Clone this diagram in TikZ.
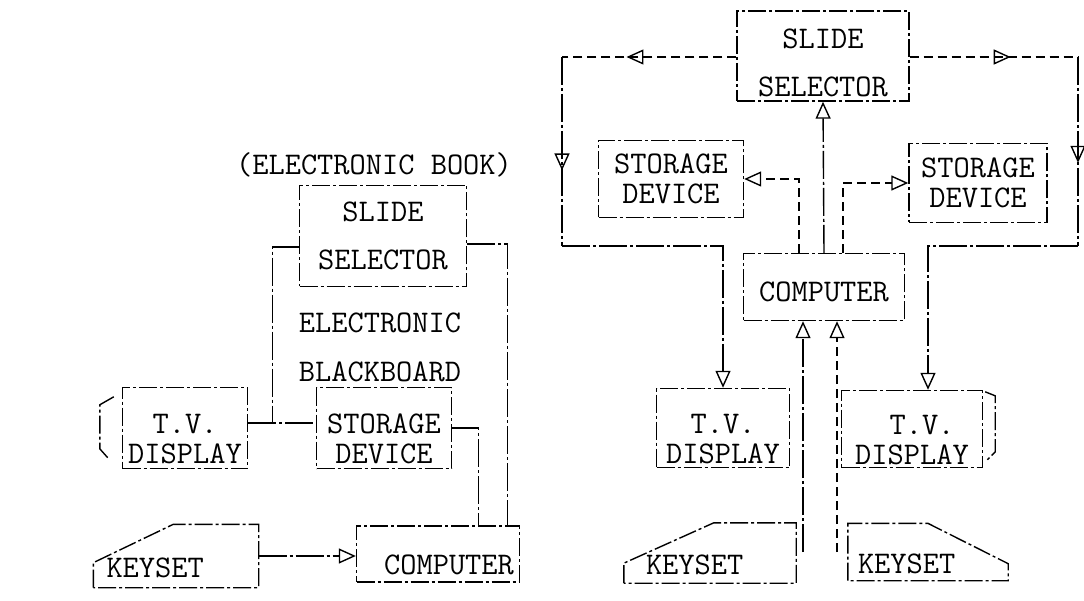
\documentclass[tikz,border=0pt]{standalone}
\usepackage{tikz}
\usetikzlibrary{arrows.meta,calc,decorations.markings}

\begin{document}
\begin{tikzpicture}[
  x=1pt,y=-1pt,
  font=\ttfamily\fontsize{31.5}{30}\selectfont,
  unit/.style={draw,line width=1.4pt,dash pattern=on 18pt off 3pt on 3pt off 3pt,
    align=center,inner sep=0pt},
  keytext/.style={inner sep=0pt,align=left},
  outline/.style={line width=1.4pt,dash pattern=on 18pt off 3pt on 3pt off 3pt},
  link/.style={line width=1.4pt,dash pattern=on 28pt off 3pt on 3pt off 3pt},
  dlink/.style={line width=1.4pt,dash pattern=on 9pt off 5pt},
  tip/.style={-{Triangle[open,length=17pt,width=15pt]}},
  midtip/.style={postaction={decorate},decoration={markings,
    mark=at position #1 with {\arrow{Triangle[open,length=17pt,width=15pt]}}}},
  ]
  \useasboundingbox (0,0) rectangle (1084,601);

  % electronic book, left
  \node (book) at (374,165) {(ELECTRONIC BOOK)};
  \node[unit,minimum width=167pt,minimum height=101pt] (selL) at (383,236) {SLIDE\\[18pt]SELECTOR};
  \node[align=center] (board) at (380,347) {ELECTRONIC\\[19pt]BLACKBOARD};
  \node[unit,minimum width=125pt,minimum height=81pt] (tvL) at (185,428) {\rule{0pt}{41pt}T.V.\\DISPLAY};
  \node[unit,minimum width=135pt,minimum height=81pt] (stoL) at (384,428) {\rule{0pt}{41pt}STORAGE\\DEVICE};
  \node[unit,minimum width=163pt,minimum height=56pt] (compL) at (438,554) {\rule{0pt}{41pt}\hspace*{22pt}COMPUTER};
  \node[keytext,minimum width=152pt,minimum height=63pt,text width=139pt,inner xsep=13pt] (keyL) at (176,556) {\rule{0pt}{44pt}KEYSET};

  \draw[outline] (keyL.south west) -- ++(0,-25) -- ($(keyL.north west)+(80,0)$)
    -- (keyL.north east) -- (keyL.south east) -- cycle;
  \draw[outline] ($(tvL.north west)+(-8,10)$) -- ++(-14,8) -- ++(0,44) -- ++(8,9);

  \coordinate (jL) at ($([yshift=5pt]tvL.east)!0.36!([yshift=5pt]stoL.west)$);
  \draw[link] ([yshift=5pt]tvL.east) -- ([yshift=5pt]stoL.west);
  \draw[link] ([yshift=-11pt]selL.west) -| (jL);
  \draw[link] ([yshift=-8pt]selL.east) -| ([xshift=-13pt]compL.north east);
  \draw[link] (stoL.east) -| ([xshift=-42pt]compL.north east);
  \draw[link,tip] (keyL.east) -- (keyL.east -| compL.west);

  % classroom, right
  \node[unit,minimum width=172pt,minimum height=90pt] (selR) at (823,56) {\rule{0pt}{33pt}SLIDE\\[18pt]SELECTOR};
  \node[unit,minimum width=145pt,minimum height=77pt] (stoRL) at (671,179) {STORAGE\\DEVICE};
  \node[unit,minimum width=138pt,minimum height=79pt] (stoRR) at (978,183) {STORAGE\\DEVICE};
  \node[unit,minimum width=161pt,minimum height=67pt] (compR) at (824,287) {\rule{0pt}{29pt}COMPUTER};
  \node[unit,minimum width=133pt,minimum height=79pt] (tvRL) at (723,428) {\rule{0pt}{41pt}T.V.\\DISPLAY};
  \node[unit,minimum width=141pt,minimum height=77pt] (tvRR) at (912,429) {\rule{0pt}{41pt}\hspace*{20pt}T.V.\\DISPLAY};
  \node[keytext,minimum width=150pt,minimum height=60pt,text width=128pt,inner xsep=22pt] (keyRL) at (710,553) {\rule{0pt}{44pt}KEYSET};
  \node[keytext,minimum width=150pt,minimum height=57pt,text width=140pt,inner xsep=10pt] (keyRR) at (928,552) {\rule{0pt}{44pt}KEYSET};

  \draw[outline] (keyRL.south west) -- ++(0,-20) -- ($(keyRL.north west)+(90,0)$)
    -- (keyRL.north east) -- (keyRL.south east) -- cycle;
  \draw[outline] (keyRR.south west) -- (keyRR.north west) -- ($(keyRR.north west)+(80,0)$)
    -- ($(keyRR.south east)+(0,-17)$) -- (keyRR.south east) -- cycle;
  \draw[outline] ($(tvRR.north east)+(2,2)$) -- ++(10,4) -- ++(0,56) -- ++(-8,8);

  \coordinate (ul) at (562,57);
  \coordinate (ll) at (562,246);
  \coordinate (ur) at (1078,57);
  \coordinate (lr) at (1078,246);
  \coordinate (kl) at (803,552);
  \coordinate (kr) at (837,552);

  \draw[dlink,midtip=0.63] ([yshift=-1pt]selR.west) -- (ul);
  \draw[link,midtip=0.6] (ul) -- (ll);
  \draw[link,tip] (ll) -| (tvRL.north);
  \draw[dlink,midtip=0.6] ([yshift=-1pt]selR.east) -- (ur);
  \draw[link,midtip=0.56] (ur) -- (lr);
  \draw[link,tip] (lr) -| ([xshift=16pt]tvRR.north);

  \draw[link,tip] (compR.north) -- (selR.south);
  \draw[dlink,tip] ([xshift=-25pt]compR.north) |- (stoRL.east);
  \draw[dlink,tip] ([xshift=19pt]compR.north) |- (stoRR.west);
  \draw[link,tip] (kl) -- (kl |- compR.south);
  \draw[dlink,tip] (kr) -- (kr |- compR.south);
\end{tikzpicture}
\end{document}
